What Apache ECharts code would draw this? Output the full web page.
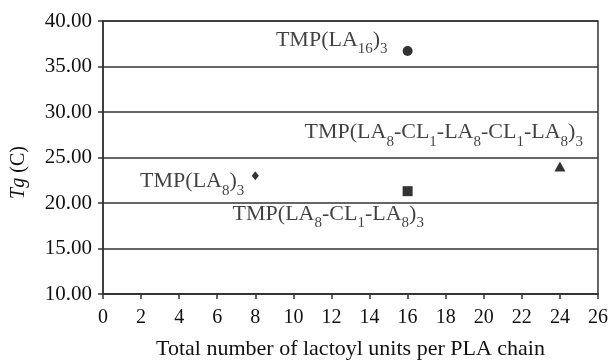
<!DOCTYPE html>
<html>
<head>
<meta charset="utf-8">
<script src="https://cdn.jsdelivr.net/npm/echarts@6/dist/echarts.min.js"></script>
<style>
  html, body { margin: 0; padding: 0; background: #fff; }
  #main { width: 613px; height: 360px; }
</style>
</head>
<body>
<div id="main"></div>
<script>
// values
var names = ['TMP(LA8)3', 'TMP(LA8-CL1-LA8)3', 'TMP(LA16)3', 'TMP(LA8-CL1-LA8-CL1-LA8)3'];
var xUnits = [8, 16, 16, 24];
var tgValues = [23.0, 21.3, 36.7, 24.0];
var symbols = ['diamond', 'rect', 'circle', 'triangle'];
var symbolSizes = [[7, 9], 10, 10, [11, 10]];
// rich text for labels (n = normal, s = subscript)
var labelTexts = [
  '{n|TMP(LA}{s|8}{n|)}{s|3}',
  '{n|TMP(LA}{s|8}{n|-CL}{s|1}{n|-LA}{s|8}{n|)}{s|3}',
  '{n|TMP(LA}{s|16}{n|)}{s|3}',
  '{n|TMP(LA}{s|8}{n|-CL}{s|1}{n|-LA}{s|8}{n|-CL}{s|1}{n|-LA}{s|8}{n|)}{s|3}'
];
var labelAlign = ['right', 'left', 'right', 'right'];
var labelOffset = [[-11, 6], [-175, 23], [-20, -11], [23, -34]];

var FONT = 'Liberation Serif';

var rich = {
  n: { fontFamily: FONT, fontSize: 22, color: '#111', lineHeight: 22 },
  s: { fontFamily: FONT, fontSize: 15, color: '#111', lineHeight: 15, padding: [18, 0, 0, 0] }
};

var myChart = echarts.init(document.getElementById('main'));

var series = names.map(function (nm, i) {
  return {
    name: nm,
    type: 'scatter',
    symbol: symbols[i],
    symbolSize: symbolSizes[i],
    itemStyle: { color: '#000' },
    data: [[xUnits[i], tgValues[i]]],
    label: {
      show: true,
      position: 'inside',
      align: labelAlign[i],
      verticalAlign: 'middle',
      offset: labelOffset[i],
      color: '#111',
      formatter: labelTexts[i],
      rich: rich
    },
    z: 5
  };
});

var option = {
  backgroundColor: '#fff',
  animation: false,
  grid: {
    left: 103, right: 15, top: 21, bottom: 66,
    outerBoundsMode: 'none', containLabel: false,
    show: true, borderColor: '#333', borderWidth: 1.5
  },
  xAxis: {
    type: 'value',
    min: 0, max: 26, interval: 2,
    name: 'Total number of lactoyl units per PLA chain',
    nameLocation: 'middle',
    nameGap: 44,
    nameTextStyle: { fontFamily: FONT, fontSize: 22, color: '#111' },
    axisLine: { onZero: false, lineStyle: { color: '#333', width: 1.5 } },
    axisTick: { show: true, inside: false, length: 5, lineStyle: { color: '#333', width: 1.5 } },
    axisLabel: { fontFamily: FONT, fontSize: 20, color: '#111', margin: 14 },
    splitLine: { show: false }
  },
  yAxis: {
    type: 'value',
    min: 10, max: 40, interval: 5,
    name: '{i|Tg} (C)',
    nameLocation: 'middle',
    nameGap: 74,
    nameRotate: 90,
    nameTextStyle: {
      fontFamily: FONT, fontSize: 20, color: '#111',
      padding: [0, 30, 0, 0],
      rich: { i: { fontFamily: FONT, fontSize: 20, fontStyle: 'italic', color: '#111' } }
    },
    axisLine: { show: true, lineStyle: { color: '#333', width: 1.5 } },
    axisTick: { show: true, inside: false, length: 5, lineStyle: { color: '#333', width: 1.5 } },
    axisLabel: {
      fontFamily: FONT, fontSize: 21, color: '#111', margin: 11,
      formatter: function (v) { return v.toFixed(2); }
    },
    splitLine: { show: true, lineStyle: { color: '#333', width: 1.5 } }
  },
  series: series
};

myChart.setOption(option);
</script>
</body>
</html>
